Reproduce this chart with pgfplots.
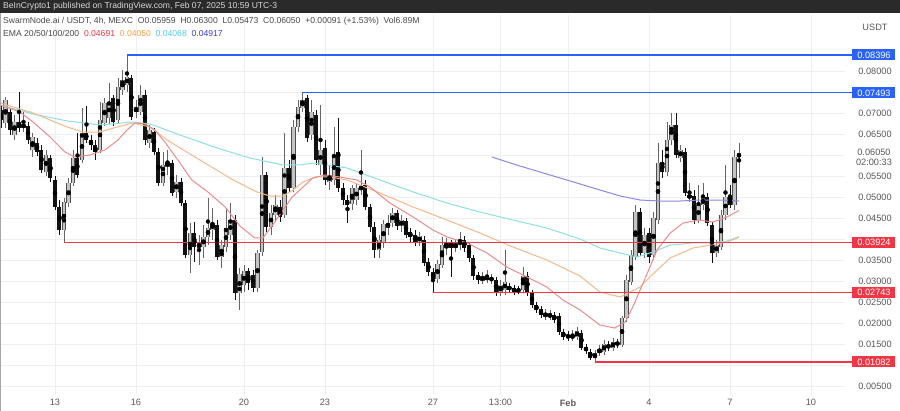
\documentclass[border=0pt]{standalone}
\usepackage{pgfplots}
\pgfplotsset{compat=1.18}
\usepackage{pgfplotstable}
\usepackage{fontspec}
\setmainfont{Liberation Sans}

\definecolor{hdrbg}{HTML}{2A2A2A}
\definecolor{hdrtxt}{HTML}{D8D8D8}
\definecolor{txt}{HTML}{4A4A4A}
\definecolor{axtxt}{HTML}{5A5A5A}
\definecolor{gridc}{HTML}{EDEFF3}
\definecolor{upwick}{HTML}{666666}
\definecolor{upedge}{HTML}{4E4E4E}
\definecolor{upbody}{HTML}{C4C4C4}
\definecolor{dn}{HTML}{111111}
\definecolor{emaA}{HTML}{F08C8C}
\definecolor{emaB}{HTML}{F6B98C}
\definecolor{emaC}{HTML}{8EE0E8}
\definecolor{emaD}{HTML}{8A8AE6}
\definecolor{lvlblue}{HTML}{2962FF}
\definecolor{lvlred}{HTML}{F23645}
\definecolor{valA}{HTML}{F23645}
\definecolor{valB}{HTML}{FF9F43}
\definecolor{valC}{HTML}{4DD0E1}
\definecolor{valD}{HTML}{3D3DDB}

% rising 4h candles (close above open)
\pgfplotstableread{
i o h l c
1 0.06777 0.07395 0.06657 0.07324
3 0.06490 0.06967 0.06371 0.06800
5 0.06657 0.07038 0.06561 0.06753
7 0.06133 0.06538 0.05965 0.06442
10 0.05608 0.06133 0.05513 0.06013
14 0.04226 0.04989 0.03924 0.04893
15 0.04870 0.05466 0.04774 0.05346
16 0.05346 0.06133 0.05274 0.05942
18 0.05894 0.07134 0.05823 0.06538
22 0.06133 0.07276 0.06062 0.06848
23 0.06777 0.07372 0.06704 0.07253
24 0.06896 0.07730 0.06753 0.07276
26 0.06848 0.07849 0.06753 0.07634
27 0.07563 0.08039 0.07443 0.07801
28 0.07682 0.08396 0.07515 0.07872
30 0.07038 0.07324 0.06896 0.07134
31 0.07038 0.07682 0.06967 0.07443
33 0.06300 0.06728 0.06181 0.06609
36 0.05346 0.06085 0.05274 0.05775
37 0.05727 0.06133 0.05537 0.05846
39 0.05132 0.05537 0.04989 0.05370
42 0.03630 0.04393 0.03202 0.04155
44 0.03797 0.04107 0.03392 0.03917
45 0.03820 0.04345 0.03559 0.04059
46 0.04059 0.04989 0.03868 0.04274
47 0.04226 0.04751 0.03988 0.04393
49 0.03582 0.03988 0.03321 0.03868
50 0.03820 0.04751 0.03701 0.04274
51 0.04107 0.04870 0.03988 0.04464
53 0.02725 0.03321 0.02319 0.03178
54 0.02915 0.03392 0.02748 0.03249
57 0.02844 0.03749 0.02748 0.03678
58 0.03701 0.05965 0.03606 0.05537
60 0.04297 0.04822 0.04107 0.04632
61 0.04583 0.05060 0.04416 0.04822
63 0.04583 0.06538 0.04512 0.05704
65 0.05227 0.06848 0.05131 0.06680
66 0.06680 0.07324 0.06561 0.07157
67 0.07134 0.07493 0.07038 0.07324
69 0.06490 0.07324 0.06371 0.07038
71 0.05775 0.07205 0.05537 0.06133
73 0.05370 0.05775 0.05179 0.05537
74 0.05418 0.06680 0.05298 0.06013
78 0.04846 0.05298 0.04703 0.05227
79 0.04941 0.05346 0.04822 0.05227
80 0.05179 0.06133 0.05060 0.05274
84 0.03749 0.04107 0.03559 0.03988
85 0.03917 0.04464 0.03797 0.04369
86 0.04274 0.04583 0.04107 0.04393
87 0.04393 0.04751 0.04297 0.04632
89 0.04321 0.04583 0.04178 0.04464
93 0.03940 0.04178 0.03844 0.04083
97 0.03058 0.03511 0.02963 0.03416
98 0.03392 0.04059 0.03321 0.03868
99 0.03797 0.04036 0.03630 0.03940
101 0.03797 0.03988 0.03701 0.03917
102 0.03868 0.04178 0.03749 0.03988
107 0.03010 0.03225 0.02939 0.03129
108 0.03034 0.03273 0.02963 0.03129
109 0.03034 0.03178 0.02939 0.03082
111 0.02725 0.03034 0.02653 0.02915
112 0.02796 0.03749 0.02677 0.02986
116 0.02796 0.03344 0.02748 0.03129
121 0.02152 0.02343 0.02081 0.02248
122 0.02152 0.02319 0.02081 0.02224
127 0.01652 0.01843 0.01580 0.01723
128 0.01675 0.01914 0.01604 0.01819
132 0.01176 0.01366 0.01082 0.01295
133 0.01295 0.01485 0.01223 0.01390
134 0.01318 0.01604 0.01247 0.01509
136 0.01414 0.01652 0.01342 0.01556
138 0.01485 0.02176 0.01437 0.02129
139 0.02129 0.03153 0.02033 0.03034
140 0.02986 0.03749 0.02915 0.03630
141 0.03582 0.04822 0.03511 0.04655
143 0.03678 0.04274 0.03559 0.04107
145 0.03630 0.04655 0.03511 0.04512
146 0.04464 0.06300 0.04369 0.05823
148 0.05608 0.06800 0.05513 0.06371
149 0.06371 0.07015 0.06252 0.06728
151 0.05942 0.06252 0.05846 0.06133
153 0.04989 0.05346 0.04893 0.05060
155 0.04464 0.05298 0.04393 0.04822
156 0.04822 0.05346 0.04703 0.04989
159 0.03678 0.03988 0.03582 0.03868
160 0.03820 0.04703 0.03749 0.04583
161 0.04583 0.05775 0.04464 0.05012
163 0.04822 0.06133 0.04703 0.05965
164 0.05959 0.06300 0.05473 0.06050
}\upcandles

% falling 4h candles (close below open)
\pgfplotstableread{
i o h l c
0 0.07086 0.07205 0.06657 0.06848
2 0.07038 0.07134 0.06490 0.06609
4 0.06800 0.07515 0.06561 0.06657
6 0.06704 0.06800 0.06276 0.06371
8 0.06300 0.06419 0.05989 0.06085
9 0.06133 0.06252 0.05585 0.05656
11 0.05942 0.06013 0.05370 0.05466
12 0.05418 0.05513 0.04703 0.04774
13 0.04774 0.04941 0.04107 0.04226
17 0.05942 0.06538 0.05466 0.05537
19 0.06538 0.07181 0.06300 0.06371
20 0.06371 0.06490 0.06133 0.06252
21 0.06252 0.06371 0.05894 0.06085
25 0.07372 0.07443 0.06704 0.06800
29 0.07849 0.07920 0.06848 0.06919
32 0.07443 0.07563 0.06252 0.06371
34 0.06561 0.06657 0.06013 0.06085
35 0.06085 0.06181 0.05274 0.05346
38 0.05823 0.05894 0.05036 0.05108
40 0.05370 0.05466 0.04798 0.04870
41 0.04870 0.04941 0.03559 0.03630
43 0.04155 0.04416 0.03463 0.03820
48 0.04345 0.04464 0.03511 0.03582
52 0.04464 0.04583 0.02558 0.02725
55 0.03249 0.03321 0.02796 0.02963
56 0.03153 0.03273 0.02748 0.02844
59 0.05537 0.05608 0.04178 0.04297
62 0.04774 0.04941 0.04416 0.04535
64 0.05704 0.05894 0.05131 0.05227
68 0.07372 0.07443 0.06323 0.06419
70 0.06967 0.07086 0.05775 0.05894
72 0.06181 0.06371 0.05298 0.05418
75 0.06085 0.06896 0.05131 0.05227
76 0.05227 0.05346 0.04822 0.04941
77 0.04941 0.05060 0.04393 0.04822
81 0.05298 0.05418 0.04703 0.04774
82 0.04774 0.04846 0.04178 0.04297
83 0.04297 0.04416 0.03559 0.03749
88 0.04632 0.04703 0.04226 0.04321
90 0.04440 0.04512 0.04036 0.04107
91 0.04178 0.04274 0.03940 0.04059
92 0.04107 0.04226 0.03844 0.03940
94 0.03988 0.04083 0.03368 0.03440
95 0.03463 0.03559 0.03129 0.03225
96 0.03225 0.03321 0.02743 0.03058
100 0.03917 0.03988 0.03105 0.03797
103 0.03988 0.04083 0.03701 0.03797
104 0.03868 0.03940 0.03463 0.03559
105 0.03559 0.03630 0.03034 0.03129
106 0.03153 0.03225 0.02939 0.03034
110 0.03034 0.03105 0.02653 0.02725
113 0.02891 0.02963 0.02725 0.02796
114 0.02844 0.02915 0.02677 0.02748
115 0.02796 0.02891 0.02701 0.02772
117 0.03129 0.03225 0.02653 0.02725
118 0.02725 0.02796 0.02367 0.02438
119 0.02438 0.02510 0.02248 0.02319
120 0.02343 0.02414 0.02129 0.02200
123 0.02200 0.02272 0.02010 0.02081
124 0.02176 0.02248 0.01723 0.01795
125 0.01795 0.01867 0.01604 0.01675
126 0.01723 0.01819 0.01580 0.01652
129 0.01772 0.01843 0.01366 0.01414
130 0.01437 0.01509 0.01271 0.01342
131 0.01318 0.01390 0.01128 0.01176
135 0.01485 0.01580 0.01342 0.01414
137 0.01556 0.01628 0.01414 0.01485
142 0.04655 0.04751 0.03606 0.03678
144 0.04155 0.04274 0.03440 0.03582
147 0.05846 0.06133 0.05466 0.05608
150 0.06728 0.07015 0.05942 0.06013
152 0.06085 0.06181 0.05036 0.05108
154 0.05036 0.05179 0.04369 0.04464
157 0.05012 0.05108 0.04321 0.04393
158 0.04345 0.04416 0.03440 0.03678
162 0.05012 0.05298 0.04751 0.04822
}\dncandles

\newcommand{\lbl}{\fontsize{9.2}{11}\selectfont}
\newcommand{\hdr}{\fontsize{8.6}{10}\selectfont}

\begin{document}
\begin{tikzpicture}
\path[use as bounding box, fill=white] (0pt,0pt) rectangle (900pt,-411pt);
\begin{axis}[
  at={(0pt,-395pt)}, anchor=south west,
  scale only axis, width=845pt, height=380pt,
  xmin=-0.2222, xmax=187.56, ymin=0.00295, ymax=0.09349,
  clip=false,
  axis line style={draw=none},
  major tick length=0pt,
  xtick={12,30,54,72,96,111,126,144,162,180},
  xticklabels={13,16,20,23,27,13:00,\textbf{Feb},4,7,10},
  ytick={0.005,0.010,0.015,0.020,0.025,0.030,0.035,0.040,0.045,0.050,0.055,0.060,0.065,0.070,0.075,0.080},
  yticklabels={0.00500,,0.01500,0.02000,0.02500,0.03000,0.03500,,0.04500,0.05000,0.05500,,0.06500,0.07000,,0.08000},
  yticklabel pos=right,
  grid=major, grid style={draw=gridc, line width=0.6pt},
  tick label style={font=\lbl, text=axtxt},
  yticklabel style={anchor=center, xshift=30pt},
  xticklabel style={yshift=-1pt},
  candle/.style 2 args={only marks, mark=none, forget plot,
    error bars/.cd, y dir=both, y explicit, error mark=none,
    error bar style={draw=#1, line width=#2}},
]
% rising candles
\addplot[candle={upwick}{0.9pt}]
  table[x=i, y expr={(\thisrow{h}+\thisrow{l})/2}, y error expr={(\thisrow{h}-\thisrow{l})/2}] {\upcandles};
\addplot[candle={upedge}{4.4pt}]
  table[x=i, y expr={(\thisrow{o}+\thisrow{c})/2}, y error expr={(\thisrow{c}-\thisrow{o})/2}] {\upcandles};
\addplot[candle={upbody}{2.4pt}]
  table[x=i, y expr={(\thisrow{o}+\thisrow{c})/2}, y error expr={(\thisrow{c}-\thisrow{o})/2}] {\upcandles};
% falling candles
\addplot[candle={dn}{0.9pt}]
  table[x=i, y expr={(\thisrow{h}+\thisrow{l})/2}, y error expr={(\thisrow{h}-\thisrow{l})/2}] {\dncandles};
\addplot[candle={dn}{4.0pt}]
  table[x=i, y expr={(\thisrow{o}+\thisrow{c})/2}, y error expr={(\thisrow{o}-\thisrow{c})/2}] {\dncandles};

% EMA lines
\addplot[emaD, line width=1pt] coordinates {(109.1,0.05965) (115.3,0.05751) (122,0.05537) (128.7,0.05322) (133.1,0.05179) (137.6,0.05036) (142,0.04941) (146.4,0.04917) (150.9,0.04917) (155.3,0.04941) (159.8,0.04941) (164,0.04917)};
\addplot[emaC, line width=1pt] coordinates {(-0.2,0.07205) (7.1,0.06991) (14.7,0.06824) (22,0.06728) (29.3,0.06800) (33.1,0.06753) (40.4,0.06466) (48,0.06181) (55.3,0.05942) (62.7,0.05775) (66.4,0.05775) (69.3,0.05823) (76.9,0.05704) (84.2,0.05418) (91.6,0.05131) (99.1,0.04870) (106.4,0.04655) (113.8,0.04464) (121.3,0.04274) (128.7,0.04012) (133.1,0.03797) (137.6,0.03678) (141.3,0.03582) (144.9,0.03701) (148.7,0.03868) (153.8,0.03917) (157.6,0.03917) (161.3,0.03964) (164,0.04068)};
\addplot[emaB, line width=1pt] coordinates {(-0.2,0.07253) (7.1,0.07015) (10.9,0.06848) (14.7,0.06680) (18.2,0.06561) (22,0.06561) (25.8,0.06680) (29.3,0.06776) (33.1,0.06680) (36.9,0.06371) (44.2,0.05894) (51.6,0.05418) (56.9,0.05131) (59.8,0.05036) (62.7,0.05036) (64.9,0.05179) (67.1,0.05370) (69.8,0.05489) (73.1,0.05489) (76.9,0.05418) (84.2,0.05108) (91.6,0.04774) (99.1,0.04464) (106.4,0.04155) (113.8,0.03820) (121.3,0.03511) (128.7,0.03129) (133.1,0.02748) (137.6,0.02629) (142,0.02867) (144.9,0.03178) (148.7,0.03559) (153.8,0.03797) (157.6,0.03868) (161.3,0.03940) (164,0.04050)};
\addplot[emaA, line width=1pt] coordinates {(-0.2,0.07205) (4.2,0.07038) (7.1,0.06800) (10.9,0.06442) (14.2,0.06085) (16.4,0.05965) (19.8,0.06013) (23.1,0.06133) (26,0.06371) (28,0.06609) (29.8,0.06776) (32,0.06753) (34.2,0.06609) (36.4,0.06323) (39.3,0.05894) (42.4,0.05418) (46,0.05131) (49.8,0.04774) (53.1,0.04321) (56.4,0.04036) (58.2,0.04036) (60.2,0.04321) (62.4,0.04655) (64.7,0.05012) (66.9,0.05227) (69.3,0.05466) (72,0.05537) (75.3,0.05489) (79.1,0.05418) (82,0.05251) (86.4,0.04870) (91.6,0.04535) (96,0.04226) (99.1,0.04059) (103.6,0.03917) (108,0.03678) (112.4,0.03344) (116.9,0.03106) (121.3,0.02867) (124.9,0.02558) (128.7,0.02319) (133.1,0.01962) (136.4,0.01890) (138.7,0.02033) (140.4,0.02391) (142.7,0.02963) (145.8,0.03749) (148.7,0.04155) (151.6,0.04393) (155.3,0.04464) (158.2,0.04416) (161.3,0.04535) (164,0.04691)};

% horizontal levels
\addplot[lvlblue, line width=1.2pt] coordinates {(28,0.08396) (189.5,0.08396)};
\addplot[lvlblue, line width=1.2pt] coordinates {(67,0.07493) (189.5,0.07493)};
\addplot[lvlred, line width=1.2pt] coordinates {(14,0.03924) (189.5,0.03924)};
\addplot[lvlred, line width=1.2pt] coordinates {(96,0.02743) (189.5,0.02743)};
\addplot[lvlred, line width=1.2pt] coordinates {(132,0.01082) (189.5,0.01082)};

\tikzset{pl/.style={inner sep=0pt, minimum width=43pt, minimum height=11pt, text=white, font=\lbl}}
\node[pl, fill=lvlblue] at (axis cs:194,0.08396) {0.08396};
\node[pl, fill=lvlblue] at (axis cs:194,0.07493) {0.07493};
\node[pl, fill=lvlred] at (axis cs:194,0.03924) {0.03924};
\node[pl, fill=lvlred] at (axis cs:194,0.02743) {0.02743};
\node[pl, fill=lvlred] at (axis cs:194,0.01082) {0.01082};
\node[inner sep=0pt, font=\lbl, text=axtxt] at (axis cs:194,0.0608) {0.06050};
\node[inner sep=0pt, font=\lbl, text=axtxt] at (axis cs:194,0.0583) {02:00:33};
\end{axis}
\fill[hdrbg] (0pt,0pt) rectangle (900pt,-13pt);
\node[anchor=west, inner sep=0pt, font=\hdr, text=hdrtxt] at (3pt,-6.5pt) {BeInCrypto1 published on TradingView.com, Feb 07, 2025 10:59 UTC-3};
\node[anchor=west, inner sep=0pt, font=\hdr, text=txt] at (3pt,-21pt) {SwarmNode.ai / USDT, 4h, MEXC\ \ O0.05959\ \ H0.06300\ \ L0.05473\ \ C0.06050\ \ +0.00091 (+1.53\%)\ \ Vol6.89M};
\node[anchor=west, inner sep=0pt, font=\hdr, text=txt] at (3pt,-33pt) {EMA 20/50/100/200\ \ \textcolor{valA}{0.04691}\ \ \textcolor{valB}{0.04050}\ \ \textcolor{valC}{0.04068}\ \ \textcolor{valD}{0.04917}};
\node[inner sep=0pt, font=\lbl, text=axtxt] at (875pt,-27pt) {USDT};
\draw[color=gray!70, line width=0.8pt] (0.4pt,-13pt) -- (0.4pt,-411pt);
\end{tikzpicture}
\end{document}
